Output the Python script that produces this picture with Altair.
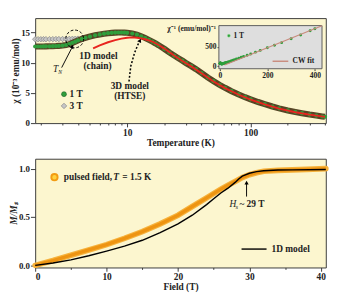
import altair as alt
import pandas as pd

FONT = "Liberation Serif"
BG = "#fcf6cf"

# ---------------- top panel: susceptibility ----------------
temp_1t = [1.8, 1.9, 2.0, 2.1, 2.2, 2.35, 2.5, 2.65, 2.8, 3.0, 3.2, 3.4, 3.6, 3.8, 4.0,
           4.3, 4.6, 5.0, 5.5, 6.0, 6.5, 7.0, 7.5, 8.0, 8.5, 9.0, 9.5, 10, 11, 12,
           13, 14, 15, 16, 17, 18, 20, 22, 24, 26, 28, 30, 33, 36, 40,
           45, 50, 56, 62, 70, 80, 90, 100, 115, 130, 150, 170, 200, 230, 260,
           300, 340, 380, 400]
chi_1t = [12.7, 12.7, 12.7, 12.71, 12.72, 12.73, 12.75, 12.77, 12.8, 12.85, 12.95, 13.1, 13.3, 13.5, 13.7,
          13.95, 14.15, 14.35, 14.55, 14.7, 14.82, 14.9, 14.96, 15.0, 15.02, 15.02, 15.0, 14.97, 14.85, 14.65,
          14.4, 14.1, 13.8, 13.5, 13.2, 12.9, 12.3, 11.7, 11.2, 10.75, 10.35, 9.95, 9.45, 8.95, 8.3,
          7.55, 6.95, 6.35, 5.85, 5.3, 4.75, 4.3, 3.95, 3.5, 3.15, 2.75, 2.45, 2.1, 1.85, 1.65,
          1.42, 1.25, 1.1, 1.04]
temp_3t = [1.8, 1.9, 2.0, 2.1, 2.2, 2.35, 2.5, 2.65, 2.8, 3.0, 3.2, 3.4, 3.6, 3.8, 4.0, 4.3]
chi_3t = [13.9, 13.9, 13.9, 13.91, 13.91, 13.92, 13.92, 13.93, 13.93, 13.94, 13.95, 13.96, 13.97, 13.98, 14.0, 14.05]
temp_htse = [5.3, 6, 7, 8, 9, 10, 11, 12, 13, 14, 16, 18, 20, 24, 28, 33, 40, 50, 62, 80,
             100, 130, 170, 230, 300, 400]
chi_htse = [12.4, 12.9, 13.4, 13.75, 14.0, 14.15, 14.2, 14.15, 14.05, 13.9, 13.5, 12.95, 12.35, 11.2, 10.3,
            9.4, 8.25, 6.9, 5.8, 4.7, 3.9, 3.1, 2.4, 1.8, 1.4, 1.03]
temp_cw = [20, 430]
inv_cw = [38, 1034]

# ---------------- bottom panel: magnetization ----------------
field_pulsed = [0, 2.5, 5, 7.5, 10, 12.5, 15, 17.5, 20, 22, 24, 26, 27, 28, 29, 30, 31, 32, 34, 36, 38, 40.7]
m_pulsed = [0.0, 0.05, 0.105, 0.16, 0.215, 0.28, 0.35, 0.43, 0.52, 0.61, 0.70, 0.79, 0.83, 0.87, 0.91,
            0.94, 0.96, 0.975, 0.985, 0.99, 0.995, 1.003]
field_1d = [0, 2.5, 5, 7.5, 10, 12.5, 15, 17.5, 20, 22, 24, 25, 26, 27, 28, 28.5, 29, 30, 31, 32, 34, 36, 40.7]
m_1d = [0.0, 0.025, 0.057, 0.1, 0.148, 0.2, 0.26, 0.34, 0.43, 0.52, 0.63, 0.69, 0.75, 0.8, 0.86, 0.895,
        0.925, 0.955, 0.972, 0.98, 0.988, 0.99, 0.993]

# ticks
t_ticks = [2, 3, 4, 5, 6, 7, 8, 9, 10, 20, 30, 40, 50, 60, 70, 80, 90, 100, 200, 300, 400]
chi_ticks = [0, 5, 10, 15]
tin_ticks = [0, 200, 400]
inv_ticks = [0, 500]
h_ticks = [0, 5, 10, 15, 20, 25, 30, 35, 40]
m_ticks = [0, 0.5, 1.0]

W = 310
H1 = 112
H2 = 116

# ---------- top main encodings ----------
major_t = "datum.value == 10 || datum.value == 100"
xT = alt.X("T:Q", title="Temperature (K)",
           scale=alt.Scale(type="log", domain=[1.8, 406], nice=False),
           axis=alt.Axis(values=t_ticks, labelExpr=f"{major_t} ? datum.label : ''",
                         tickSize={"condition": {"test": major_t, "value": 4}, "value": 2},
                         labelPadding=1, titlePadding=1))
yC = alt.Y("chi:Q", title="χ (10⁻³ emu/mol)",
           scale=alt.Scale(domain=[0, 17.4], nice=False, zero=False),
           axis=alt.Axis(values=chi_ticks, titlePadding=0, labelPadding=1, labelFontSize=9.5))

df1 = pd.DataFrame({"T": temp_1t, "chi": chi_1t})
df3 = pd.DataFrame({"T": temp_3t, "chi": chi_3t})
dfh = pd.DataFrame({"T": temp_htse, "chi": chi_htse})

pts3 = alt.Chart(df3).mark_point(shape="diamond", filled=True, size=34, fill="#c6c6c6",
                                 stroke="#8c8c8c", strokeWidth=0.8, opacity=1).encode(x=xT, y=yC)
band = alt.Chart(df1).mark_line(color="#574526", strokeWidth=6.5, clip=True).encode(x=xT, y=yC)
pts1 = alt.Chart(df1).mark_point(shape="circle", filled=True, size=20, color="#2f9e3c",
                                 opacity=1).encode(x=xT, y=yC)
red = alt.Chart(dfh).mark_line(color="#e8251f", strokeWidth=2).encode(x=xT, y=yC)

# annotations top
circ = alt.Chart(pd.DataFrame({"T": [3.76], "chi": [13.95]})).mark_point(
    shape="circle", size=361, filled=False, stroke="black", strokeDash=[3, 2], strokeWidth=1,
    opacity=1).encode(x=xT, y=yC)
tn_arrow = alt.Chart(pd.DataFrame({"T": [2.95], "chi": [9.2], "T2": [3.55], "chi2": [12.4]})).mark_rule(
    color="black", strokeWidth=1).encode(x=xT, y=yC, x2="T2:Q", y2="chi2:Q")
tn_head = alt.Chart(pd.DataFrame({"T": [3.6], "chi": [12.7]})).mark_point(
    shape="triangle-up", filled=True, color="black", size=22, angle=27, opacity=1).encode(x=xT, y=yC)
dot_arrow = alt.Chart(pd.DataFrame({"T": [10.35, 10.7, 11.5, 12.4], "chi": [6.9, 9.45, 11.7, 13.3]})).mark_line(
    color="black", strokeWidth=1.6, strokeDash=[2, 2]).encode(x=xT, y=yC)
dot_head = alt.Chart(pd.DataFrame({"T": [12.7], "chi": [13.7]})).mark_point(
    shape="triangle-up", filled=True, color="black", size=22, angle=25, opacity=1).encode(x=xT, y=yC)

txt_center = alt.Chart(pd.DataFrame({
    "T": [5.85, 5.75, 10.5, 10.5],
    "chi": [11.1, 9.45, 6.15, 4.5],
    "label": ["1D model", "(chain)", "3D model", "(HTSE)"]})).mark_text(
    font=FONT, fontWeight="bold", fontSize=10, align="center", baseline="middle", color="#222").encode(
    x=xT, y=yC, text="label:N")
tn_T = alt.Chart(pd.DataFrame({"T": [2.63], "chi": [9.0], "label": ["T"]})).mark_text(
    font=FONT, fontStyle="italic", fontSize=10, align="center", baseline="middle", color="#222").encode(
    x=xT, y=yC, text="label:N")
tn_N = alt.Chart(pd.DataFrame({"T": [2.63], "chi": [9.0], "label": ["N"]})).mark_text(
    font=FONT, fontStyle="italic", fontSize=6, align="left", baseline="middle", dx=3, dy=3,
    color="#222").encode(x=xT, y=yC, text="label:N")

leg_1t = alt.Chart(pd.DataFrame({"T": [3.08], "chi": [4.8]})).mark_point(
    shape="circle", filled=True, size=28, color="#2f9e3c", stroke="#1d5e25", strokeWidth=0.6,
    opacity=1).encode(x=xT, y=yC)
leg_3t = alt.Chart(pd.DataFrame({"T": [3.08], "chi": [2.85]})).mark_point(
    shape="diamond", filled=True, size=34, fill="#c6c6c6", stroke="#8c8c8c", strokeWidth=0.8,
    opacity=1).encode(x=xT, y=yC)
leg_txt = alt.Chart(pd.DataFrame({"T": [3.42, 3.42], "chi": [4.8, 2.85], "label": ["1 T", "3 T"]})).mark_text(
    font=FONT, fontWeight="bold", fontSize=10, align="left", baseline="middle", color="#222").encode(
    x=xT, y=yC, text="label:N")
inset_title = alt.Chart(pd.DataFrame({"T": [52.5], "chi": [15.6], "label": ["χ⁻¹ (emu/mol)⁻¹"]})).mark_text(
    font=FONT, fontWeight="bold", fontSize=8, align="right", baseline="middle", color="#222").encode(
    x=xT, y=yC, text="label:N")

main = alt.layer(pts3, band, pts1, red, circ, tn_arrow, tn_head, dot_arrow, dot_head,
                 txt_center, tn_T, tn_N, leg_1t, leg_3t, leg_txt, inset_title)

# ---------- inset (own scales; domains extended so the inset box sits top-right) ----------
xI = alt.X("Ti:Q", title=None,
           scale=alt.Scale(domain=[-777, 446], nice=False, zero=False),
           axis=alt.Axis(orient="bottom", offset=-58, values=tin_ticks, labelFontSize=8,
                         tickSize=2, labelPadding=1))
yI = alt.Y("inv:Q", title=None,
           scale=alt.Scale(domain=[-1447, 1231], nice=False, zero=False),
           axis=alt.Axis(orient="left", offset=-196, values=inv_ticks, labelFontSize=8,
                         tickSize=2, labelPadding=1))

box = alt.Chart(pd.DataFrame({"Ti": [-4], "Ti2": [430], "inv": [-60], "inv2": [1040]})).mark_rect(
    fill="#dedede", stroke="#555555", strokeWidth=1).encode(x=xI, x2="Ti2:Q", y=yI, y2="inv2:Q")
inv_pts = alt.Chart(df1).transform_calculate(Ti="datum.T", inv="1000 / datum.chi").mark_point(
    shape="circle", filled=True, size=10, color="#2f9e3c", opacity=1).encode(x=xI, y=yI)
cw = alt.Chart(pd.DataFrame({"Ti": temp_cw, "inv": inv_cw})).mark_line(
    color="#c98a7c", strokeWidth=1.2).encode(x=xI, y=yI)
ileg_pt = alt.Chart(pd.DataFrame({"Ti": [38], "inv": [780]})).mark_point(
    shape="circle", filled=True, size=10, color="#2f9e3c", stroke="#9be59b", strokeWidth=0.5,
    opacity=1).encode(x=xI, y=yI)
ileg_line = alt.Chart(pd.DataFrame({"Ti": [222], "Ti2": [288], "inv": [131]})).mark_rule(
    color="#c98a7c", strokeWidth=1.5).encode(x=xI, x2="Ti2:Q", y=yI)
ileg_txt = alt.Chart(pd.DataFrame({"Ti": [58, 306], "inv": [780, 131], "label": ["1 T", "CW fit"]})).mark_text(
    font=FONT, fontWeight="bold", fontSize=8, align="left", baseline="middle", color="#222").encode(
    x=xI, y=yI, text="label:N")

inset = alt.layer(box, inv_pts, cw, ileg_pt, ileg_line, ileg_txt)

top = alt.layer(main, inset).resolve_scale(x="independent", y="independent").properties(
    width=W, height=H1)

# ---------- bottom panel ----------
major_h = "datum.value % 10 == 0"
xH = alt.X("H:Q", title="Field (T)",
           scale=alt.Scale(domain=[0, 40.7], nice=False, zero=False),
           axis=alt.Axis(values=h_ticks, labelExpr=f"{major_h} ? datum.label : ''",
                         tickSize={"condition": {"test": major_h, "value": 4}, "value": 2},
                         labelPadding=1, titlePadding=1))
yM = alt.Y("M:Q", title="M/Mₛ",
           scale=alt.Scale(domain=[-0.022, 1.105], nice=False, zero=False),
           axis=alt.Axis(values=m_ticks, format=".1f", titleFontStyle="italic",
                         titlePadding=0, labelPadding=1, labelFontSize=9.5))

dfp = pd.DataFrame({"H": field_pulsed, "M": m_pulsed})
dfd = pd.DataFrame({"H": field_1d, "M": m_1d})

p_outer = alt.Chart(dfp).mark_line(color="#f6b23c", strokeWidth=6, strokeCap="round").encode(x=xH, y=yM)
p_inner = alt.Chart(dfp).mark_line(color="#ee9412", strokeWidth=3.5).encode(x=xH, y=yM)
m1d = alt.Chart(dfd).mark_line(color="black", strokeWidth=1.5).encode(x=xH, y=yM)

bl_pt = alt.Chart(pd.DataFrame({"H": [2.7], "M": [0.914]})).mark_point(
    shape="circle", filled=True, size=45, fill="#ffd23f", stroke="#f39c12", strokeWidth=2,
    opacity=1).encode(x=xH, y=yM)
bl_txt1 = alt.Chart(pd.DataFrame({"H": [4.0, 12.2], "M": [0.914, 0.914],
                                  "label": ["pulsed field,", "= 1.5 K"]})).mark_text(
    font=FONT, fontWeight="bold", fontSize=10, align="left", baseline="middle", color="#222").encode(
    x=xH, y=yM, text="label:N")
bl_txtT = alt.Chart(pd.DataFrame({"H": [10.94], "M": [0.914], "label": ["T"]})).mark_text(
    font=FONT, fontWeight="bold", fontStyle="italic", fontSize=10, align="left", baseline="middle",
    color="#222").encode(x=xH, y=yM, text="label:N")
bl_line = alt.Chart(pd.DataFrame({"H": [28.9], "H2": [32.4], "M": [0.169]})).mark_rule(
    color="black", strokeWidth=1.5).encode(x=xH, x2="H2:Q", y=yM)
bl_txt2 = alt.Chart(pd.DataFrame({"H": [33.1], "M": [0.169], "label": ["1D model"]})).mark_text(
    font=FONT, fontWeight="bold", fontSize=10, align="left", baseline="middle", color="#222").encode(
    x=xH, y=yM, text="label:N")
hs_arrow = alt.Chart(pd.DataFrame({"H": [29.6], "M": [0.713], "M2": [0.845]})).mark_rule(
    color="black", strokeWidth=1).encode(x=xH, y=yM, y2="M2:Q")
hs_head = alt.Chart(pd.DataFrame({"H": [29.6], "M": [0.857]})).mark_point(
    shape="triangle-up", filled=True, color="black", size=20, opacity=1).encode(x=xH, y=yM)
hs_H = alt.Chart(pd.DataFrame({"H": [27.7], "M": [0.63], "label": ["H"]})).mark_text(
    font=FONT, fontStyle="italic", fontSize=10, align="center", baseline="middle", color="#222").encode(
    x=xH, y=yM, text="label:N")
hs_s = alt.Chart(pd.DataFrame({"H": [28.05], "M": [0.63], "label": ["s"]})).mark_text(
    font=FONT, fontStyle="italic", fontSize=7, align="left", baseline="middle", dy=3, color="#222").encode(
    x=xH, y=yM, text="label:N")
hs_rest = alt.Chart(pd.DataFrame({"H": [28.6], "M": [0.63], "label": ["~ 29 T"]})).mark_text(
    font=FONT, fontWeight="bold", fontSize=10, align="left", baseline="middle", color="#222").encode(
    x=xH, y=yM, text="label:N")

bottom = alt.layer(p_outer, p_inner, m1d, bl_pt, bl_txt1, bl_txtT, bl_line, bl_txt2,
                   hs_arrow, hs_head, hs_H, hs_s, hs_rest).properties(width=W, height=H2)

chart = alt.vconcat(top, bottom, spacing=8).properties(
    padding={"left": 0, "top": 0, "right": 0, "bottom": 0}, background="white"
).configure_view(
    stroke="#333333", strokeWidth=1, fill=BG
).configure_axis(
    labelFont=FONT, titleFont=FONT, labelFontWeight="bold", titleFontWeight="bold",
    labelFontSize=10, titleFontSize=10, grid=False, domain=False, tickColor="#333333",
    labelColor="#222222", titleColor="#222222"
)

chart.save("out.html", embed_options={"renderer": "svg", "actions": False})
